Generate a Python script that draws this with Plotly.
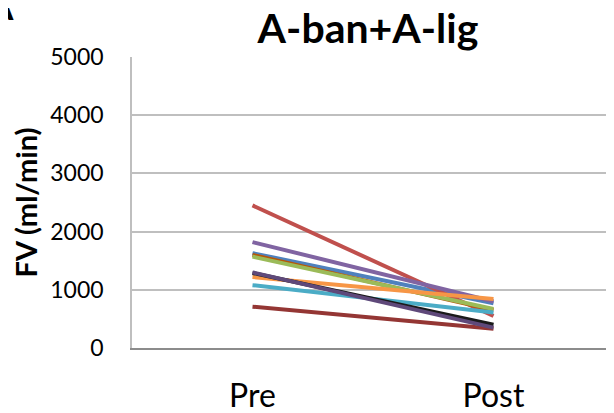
import plotly.graph_objects as go

categories = ["Pre", "Post"]
series_names = ["S1", "S2", "S3", "S4", "S5", "S6", "S7", "S8", "S9", "S10"]
pre_values = [1630, 2450, 1600, 1570, 1820, 1080, 1220, 1290, 710, 1300]
post_values = [770, 550, 650, 670, 800, 610, 840, 400, 330, 350]
colors = ["#4F81BD", "#C0504D", "#B65708", "#9BBB59", "#8064A2", "#4BACC6",
          "#F79646", "#1A1A1A", "#943634", "#5F497A"]
y_ticks = [0, 1000, 2000, 3000, 4000, 5000]

fig = go.Figure()
for name, a, b, c in zip(series_names, pre_values, post_values, colors):
    fig.add_trace(go.Scatter(x=categories, y=[a, b], mode="lines", name=name,
                             line=dict(color=c, width=4), showlegend=False))

font_family = "Lato, 'Open Sans', sans-serif"
# page body has an 8px default margin; figure sized so it fills the window
FW, FH = 606, 405
L, T, W, H = 124, 49, 482, 291
fig.update_layout(
    width=FW, height=FH,
    margin=dict(l=L, r=FW - L - W, t=T, b=FH - T - H),
    paper_bgcolor="white", plot_bgcolor="white",
    font=dict(family=font_family, color="black"),
    title=dict(text="<b>A-ban+A-lig</b>", x=(360 - L) / W, xref="paper", xanchor="center",
               yref="container", y=1 - 21 / FH, yanchor="middle", automargin=False,
               font=dict(size=41, family=font_family)),
    xaxis=dict(type="category", range=[-0.5, 1.5], showgrid=False, automargin=False,
               showline=True, linecolor="#8C8C8C", linewidth=2,
               ticks="", tickfont=dict(size=32), ticklabelstandoff=19),
    yaxis=dict(range=[0, 5000], tickvals=y_ticks, showgrid=True, automargin=False,
               gridcolor="#BFBFBF", gridwidth=1.5, zeroline=False,
               showline=True, linecolor="#BFBFBF", linewidth=1.5,
               ticks="", tickfont=dict(size=23), ticklabelstandoff=22,
               title=dict(text="<b>FV (ml/min)</b>", font=dict(size=29), standoff=8)),
    annotations=[dict(text="<b>A</b>", xref="paper", yref="paper",
                      x=(8 - L) / W, y=(T + H - 22) / H,
                      xanchor="right", yanchor="bottom", showarrow=False,
                      font=dict(size=38, family=font_family))],
)
fig.write_html("out.html")
